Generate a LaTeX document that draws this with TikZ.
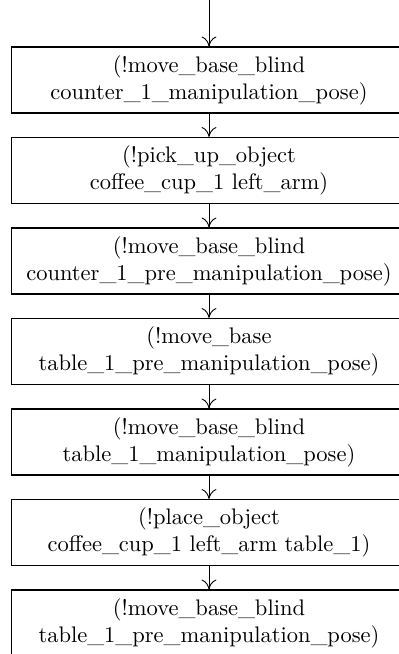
\documentclass[tikz,border=0pt]{standalone}
\usetikzlibrary{arrows.meta}
\begin{document}
\begin{tikzpicture}[x=0.4444pt,y=-0.4444pt,
  actbox/.style={draw, rectangle, align=center, minimum width=175.5pt, minimum height=29.3pt, inner sep=0pt, line width=0.5pt},
  flow/.style={-{To[length=4.4pt,width=6.6pt]}, line width=0.4pt}]
\useasboundingbox (0,0) rectangle (398,654);
\coordinate (start) at (209,0);
\node[actbox] (a1) at (209,80) {(!move\_base\_blind\\counter\_1\_manipulation\_pose)};
\node[actbox] (a2) at (209,170.5) {(!pick\_up\_object\\coffee\_cup\_1 left\_arm)};
\node[actbox] (a3) at (209,261) {(!move\_base\_blind\\counter\_1\_pre\_manipulation\_pose)};
\node[actbox] (a4) at (209,351.5) {(!move\_base\\table\_1\_pre\_manipulation\_pose)};
\node[actbox] (a5) at (209,442) {(!move\_base\_blind\\table\_1\_manipulation\_pose)};
\node[actbox] (a6) at (209,532.5) {(!place\_object\\coffee\_cup\_1 left\_arm table\_1)};
\node[actbox] (a7) at (209,623) {(!move\_base\_blind\\table\_1\_pre\_manipulation\_pose)};
\draw[flow] (start) -- (a1);
\draw[flow] (a1) -- (a2);
\draw[flow] (a2) -- (a3);
\draw[flow] (a3) -- (a4);
\draw[flow] (a4) -- (a5);
\draw[flow] (a5) -- (a6);
\draw[flow] (a6) -- (a7);
\end{tikzpicture}
\end{document}
